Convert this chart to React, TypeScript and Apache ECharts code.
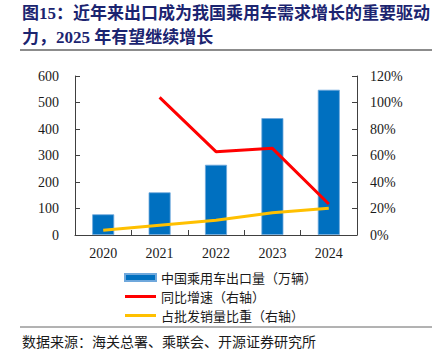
import React, { useEffect, useRef } from "react";
import * as echarts from "echarts";

const years = ["2020", "2021", "2022", "2023", "2024"];
const exportVolume = [78, 161, 265, 441, 548];
const yoyGrowth = [null, 103.9, 62.9, 65.4, 23.4];
const wholesaleShare = [3.5, 7.3, 11.1, 16.8, 20.1];

const titleLine1 = "图15：近年来出口成为我国乘用车需求增长的重要驱动";
const titleLine2 = "力，2025 年有望继续增长";
const sourceText = "数据来源：海关总署、乘联会、开源证券研究所";
const seriesNames = ["中国乘用车出口量（万辆）", "同比增速（右轴）", "占批发销量比重（右轴）"];

const SERIF = "'Liberation Serif', 'Times New Roman', 'Noto Sans CJK SC', serif";
const CJK = "'Noto Sans CJK SC', sans-serif";
const LINE_ICON = "path://M0,0 L62,0 L62,6 L0,6 Z";

export default function App() {
  const ref = useRef<HTMLDivElement>(null);
  useEffect(() => {
    if (!ref.current) return;
    const chart = echarts.init(ref.current, undefined, { renderer: "svg" });
    const axisColor = "#404040";
    const labelStyle = { color: "#1a1a1a", fontSize: 14, fontFamily: SERIF };
    chart.setOption({
      animation: false,
      backgroundColor: "#ffffff",
      grid: { left: 75, right: 79, top: 76, bottom: 118, containLabel: false },
      xAxis: {
        type: "category",
        data: years,
        boundaryGap: true,
        axisLine: { show: true, lineStyle: { color: axisColor, width: 1 } },
        axisTick: { show: true, inside: true, length: 5, lineStyle: { color: axisColor } },
        axisLabel: { ...labelStyle, margin: 11 },
      },
      yAxis: [
        {
          type: "value",
          min: 0,
          max: 600,
          interval: 100,
          axisLine: { show: true, lineStyle: { color: axisColor, width: 1 } },
          axisTick: { show: true, inside: true, length: 5, lineStyle: { color: axisColor } },
          axisLabel: { ...labelStyle, margin: 16 },
          splitLine: { show: false },
        },
        {
          type: "value",
          min: 0,
          max: 120,
          interval: 20,
          position: "right",
          axisLine: { show: true, lineStyle: { color: axisColor, width: 1 } },
          axisTick: { show: true, inside: true, length: 5, lineStyle: { color: axisColor } },
          axisLabel: { ...labelStyle, margin: 13, formatter: "{value}%" },
          splitLine: { show: false },
        },
      ],
      legend: {
        orient: "vertical",
        left: 119,
        top: 266,
        itemWidth: 31,
        itemHeight: 7,
        itemGap: 6,
        textStyle: { fontSize: 13, lineHeight: 13, fontFamily: CJK, color: "#1a1a1a" },
        data: [
          { name: seriesNames[0], icon: "rect" },
          { name: seriesNames[1], icon: LINE_ICON },
          { name: seriesNames[2], icon: LINE_ICON },
        ],
      },
      series: [
        {
          name: seriesNames[0],
          type: "bar",
          data: exportVolume,
          barWidth: 22,
          itemStyle: { color: "#0070C0", borderColor: "#6FA8DC", borderWidth: 0.8 },
        },
        {
          name: seriesNames[1],
          type: "line",
          yAxisIndex: 1,
          data: yoyGrowth,
          symbol: "none",
          lineStyle: { color: "#FF0000", width: 3 },
          itemStyle: { color: "#FF0000" },
        },
        {
          name: seriesNames[2],
          type: "line",
          yAxisIndex: 1,
          data: wholesaleShare,
          symbol: "none",
          lineStyle: { color: "#FFC000", width: 3 },
          itemStyle: { color: "#FFC000" },
        },
      ],
      graphic: [
        {
          type: "text",
          left: 22,
          top: 5,
          style: { text: titleLine1, fontSize: 17, fontWeight: "bold", fontFamily: SERIF, fill: "#1B2470" },
        },
        {
          type: "text",
          left: 22,
          top: 29,
          style: { text: titleLine2, fontSize: 17, fontWeight: "bold", fontFamily: SERIF, fill: "#1B2470" },
        },
        {
          type: "line",
          shape: { x1: 20, y1: 50, x2: 432, y2: 50 },
          style: { stroke: "#666666", lineWidth: 1.5 },
        },
        {
          type: "line",
          shape: { x1: 20, y1: 327, x2: 432, y2: 327 },
          style: { stroke: "#666666", lineWidth: 1 },
        },
        {
          type: "text",
          left: 22,
          top: 334,
          style: { text: sourceText, fontSize: 14, fontFamily: CJK, fill: "#1a1a1a" },
        },
      ],
    });
    return () => chart.dispose();
  }, []);
  return (
    <div
      ref={ref}
      style={{ position: "fixed", left: 0, top: 0, width: 436, height: 353 }}
    />
  );
}
